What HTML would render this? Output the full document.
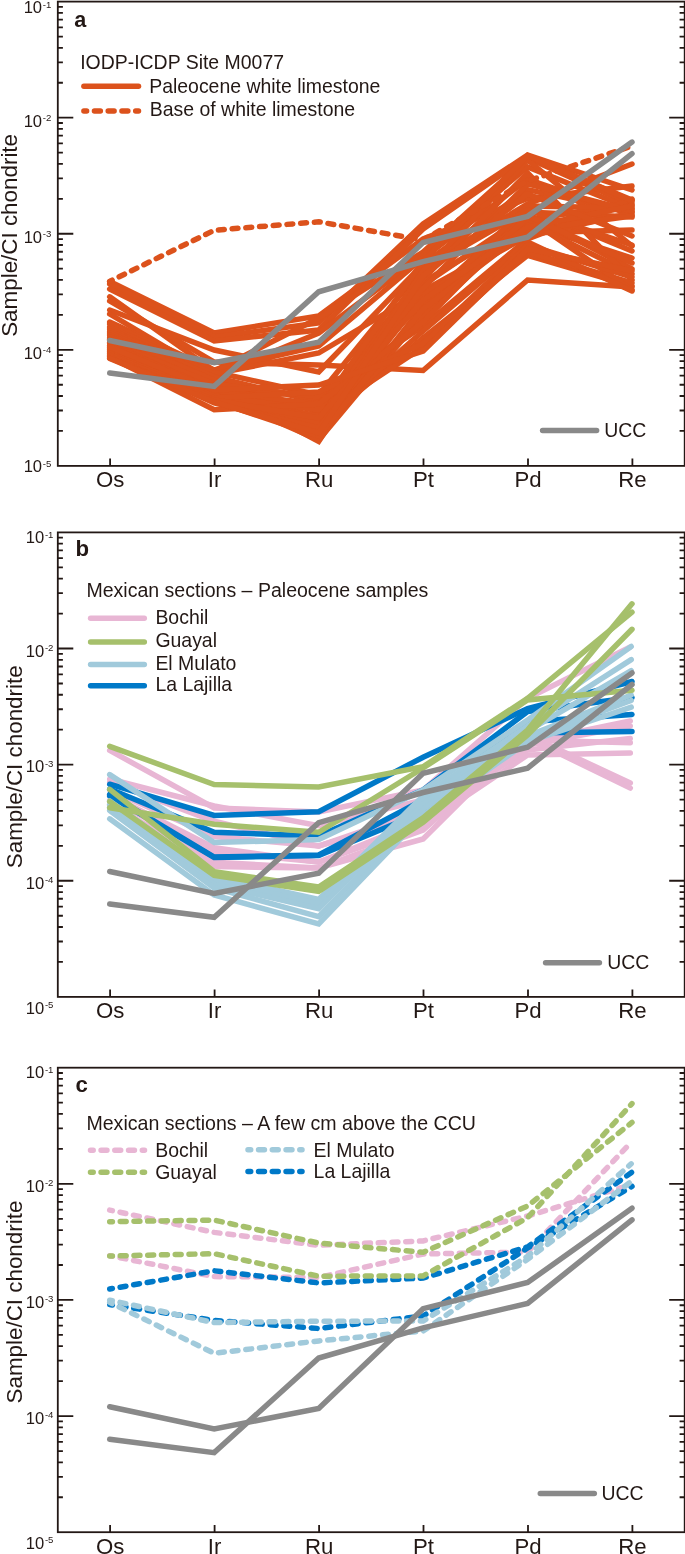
<!DOCTYPE html>
<html><head><meta charset="utf-8"><title>PGE patterns</title>
<style>html,body{margin:0;padding:0;background:#fff}svg{display:block;will-change:transform}</style></head>
<body>
<svg width="685" height="1554" viewBox="0 0 685 1554" font-family="'Liberation Sans', sans-serif" fill="#231815">
<rect width="685" height="1554" fill="#fff"/>
<g fill="none" stroke-linecap="round" stroke-linejoin="miter" stroke-miterlimit="10">
<polyline points="109.7,281.5 214.2,333 318.7,316 423.1,239 527.6,198.4 632,186" stroke="#DC521C" stroke-width="5.5" />
<polyline points="109.7,284 214.2,337 318.7,323 423.1,224 527.6,155 632,190" stroke="#DC521C" stroke-width="5.5" />
<polyline points="109.7,289 214.2,341 318.7,330 423.1,229 527.6,156.5 632,200" stroke="#DC521C" stroke-width="5.5" />
<polyline points="109.7,296.8 214.2,371 318.7,318 423.1,252 527.6,158 632,205" stroke="#DC521C" stroke-width="5.5" />
<polyline points="109.7,300.9 214.2,362 318.7,365 423.1,370.5 527.6,280 632,287" stroke="#DC521C" stroke-width="5.5" />
<polyline points="109.7,310 214.2,350 318.7,372 423.1,264 527.6,189.6 632,212" stroke="#DC521C" stroke-width="5.5" />
<polyline points="109.7,314 214.2,376 318.7,333 423.1,255 527.6,167 632,209" stroke="#DC521C" stroke-width="5.5" />
<polyline points="109.7,322 214.2,370 318.7,346 423.1,258 527.6,179.4 632,215" stroke="#DC521C" stroke-width="5.5" />
<polyline points="109.7,324 214.2,372 318.7,395 423.1,267 527.6,204 632,164" stroke="#DC521C" stroke-width="5.5" />
<polyline points="109.7,327 214.2,374 318.7,353 423.1,291 527.6,233 632,230" stroke="#DC521C" stroke-width="5.5" />
<polyline points="109.7,329 214.2,378 318.7,412 423.1,273 527.6,160 632,246" stroke="#DC521C" stroke-width="5.5" />
<polyline points="109.7,331 214.2,377 318.7,402 423.1,303 527.6,208 632,251" stroke="#DC521C" stroke-width="5.5" />
<polyline points="109.7,333 214.2,381 318.7,420 423.1,282 527.6,220 632,203" stroke="#DC521C" stroke-width="5.5" />
<polyline points="109.7,335 214.2,383 318.7,428 423.1,297 527.6,224 632,258" stroke="#DC521C" stroke-width="5.5" />
<polyline points="109.7,337 214.2,380 318.7,435 423.1,312 527.6,212 632,217" stroke="#DC521C" stroke-width="5.5" />
<polyline points="109.7,339 214.2,386 318.7,441.5 423.1,285 527.6,214 632,269" stroke="#DC521C" stroke-width="5.5" />
<polyline points="109.7,340 214.2,388 318.7,408 423.1,318 527.6,222 632,274" stroke="#DC521C" stroke-width="5.5" />
<polyline points="109.7,342 214.2,384 318.7,397 423.1,326 527.6,239 632,199" stroke="#DC521C" stroke-width="5.5" />
<polyline points="109.7,343 214.2,391 318.7,432 423.1,279 527.6,173 632,280" stroke="#DC521C" stroke-width="5.5" />
<polyline points="109.7,345 214.2,389 318.7,425 423.1,338 527.6,255.3 632,286" stroke="#DC521C" stroke-width="5.5" />
<polyline points="109.7,346 214.2,393 318.7,438 423.1,306 527.6,206 632,208" stroke="#DC521C" stroke-width="5.5" />
<polyline points="109.7,348 214.2,395 318.7,416 423.1,347 527.6,252 632,283" stroke="#DC521C" stroke-width="5.5" />
<polyline points="109.7,349 214.2,392 318.7,404 423.1,294 527.6,236 632,213" stroke="#DC521C" stroke-width="5.5" />
<polyline points="109.7,350 214.2,397 318.7,430 423.1,270 527.6,210 632,245" stroke="#DC521C" stroke-width="5.5" />
<polyline points="109.7,351 214.2,394 318.7,440 423.1,315 527.6,218 632,290" stroke="#DC521C" stroke-width="5.5" />
<polyline points="109.7,352 214.2,399 318.7,423 423.1,331 527.6,242 632,291" stroke="#DC521C" stroke-width="5.5" />
<polyline points="109.7,353 214.2,396 318.7,410 423.1,261 527.6,155.5 632,201" stroke="#DC521C" stroke-width="5.5" />
<polyline points="109.7,354 214.2,401 318.7,436 423.1,309 527.6,230 632,216" stroke="#DC521C" stroke-width="5.5" />
<polyline points="109.7,355 214.2,398 318.7,392 423.1,343.5 527.6,245 632,277" stroke="#DC521C" stroke-width="5.5" />
<polyline points="109.7,356 214.2,403 318.7,428 423.1,288 527.6,183.8 632,211" stroke="#DC521C" stroke-width="5.5" />
<polyline points="109.7,357 214.2,409.8 318.7,404 423.1,322 527.6,216 632,263" stroke="#DC521C" stroke-width="5.5" />
<polyline points="109.7,358 214.2,400 318.7,418 423.1,300 527.6,227 632,206" stroke="#DC521C" stroke-width="5.5" />
<polyline points="109.7,358.5 214.2,402 318.7,433 423.1,276 527.6,194 632,236" stroke="#DC521C" stroke-width="5.5" />
<polyline points="109.7,347 214.2,390 318.7,385 423.1,351 527.6,248.8 632,271" stroke="#DC521C" stroke-width="5.5" />
<polyline points="109.7,281.4 214.2,230.3 318.7,221.8 423.1,240 527.6,181 632,146" stroke="#DC521C" stroke-width="5.5" stroke-dasharray="5.9 7.85" stroke-dashoffset="3.2"/>
<polyline points="109.7,340.54 214.2,362.59 318.7,342.28 423.1,242.46 527.6,216.34 632,142.05" stroke="#898989" stroke-width="5.5" />
<polyline points="109.7,373.04 214.2,386.39 318.7,291.79 423.1,261.61 527.6,237.23 632,153.66" stroke="#898989" stroke-width="5.5" />
<path d="M83.9 86.3H138.5" stroke="#DC521C" stroke-width="5.5"/>
<path d="M83.9 111H138.5" stroke="#DC521C" stroke-width="5.5" stroke-dasharray="5.9 7.85" stroke-dashoffset="3.2"/>
<path d="M542.6 430.4H596.6" stroke="#898989" stroke-width="5.5"/>
</g>
<g stroke="#231815" stroke-width="1.8" fill="none" stroke-linecap="butt">
<rect x="57.8" y="1.6" width="626.9" height="464.3"/>
<path d="M57.8 82.73h5.1M684.7 82.73h-5.1M57.8 62.29h5.1M684.7 62.29h-5.1M57.8 47.79h5.1M684.7 47.79h-5.1M57.8 36.54h5.1M684.7 36.54h-5.1M57.8 27.35h5.1M684.7 27.35h-5.1M57.8 19.58h5.1M684.7 19.58h-5.1M57.8 12.85h5.1M684.7 12.85h-5.1M57.8 6.91h5.1M684.7 6.91h-5.1M57.8 117.67h15.5M684.7 117.67h-15.5M57.8 198.81h5.1M684.7 198.81h-5.1M57.8 178.37h5.1M684.7 178.37h-5.1M57.8 163.87h5.1M684.7 163.87h-5.1M57.8 152.62h5.1M684.7 152.62h-5.1M57.8 143.43h5.1M684.7 143.43h-5.1M57.8 135.66h5.1M684.7 135.66h-5.1M57.8 128.92h5.1M684.7 128.92h-5.1M57.8 122.99h5.1M684.7 122.99h-5.1M57.8 233.75h15.5M684.7 233.75h-15.5M57.8 314.88h5.1M684.7 314.88h-5.1M57.8 294.44h5.1M684.7 294.44h-5.1M57.8 279.94h5.1M684.7 279.94h-5.1M57.8 268.69h5.1M684.7 268.69h-5.1M57.8 259.5h5.1M684.7 259.5h-5.1M57.8 251.73h5.1M684.7 251.73h-5.1M57.8 245h5.1M684.7 245h-5.1M57.8 239.06h5.1M684.7 239.06h-5.1M57.8 349.82h15.5M684.7 349.82h-15.5M57.8 430.96h5.1M684.7 430.96h-5.1M57.8 410.52h5.1M684.7 410.52h-5.1M57.8 396.02h5.1M684.7 396.02h-5.1M57.8 384.77h5.1M684.7 384.77h-5.1M57.8 375.58h5.1M684.7 375.58h-5.1M57.8 367.81h5.1M684.7 367.81h-5.1M57.8 361.07h5.1M684.7 361.07h-5.1M57.8 355.14h5.1M684.7 355.14h-5.1M110.1 465.9v-7.3M214.6 465.9v-7.3M319.1 465.9v-7.3M423.5 465.9v-7.3M528 465.9v-7.3M632.4 465.9v-7.3"/>
</g>
<text x="23.65" y="13.1" font-size="16.6">10</text>
<text x="42.8" y="7.5" font-size="9.6">-1</text>
<text x="23.65" y="127.07" font-size="16.6">10</text>
<text x="42.8" y="121.47" font-size="9.6">-2</text>
<text x="23.65" y="242.65" font-size="16.6">10</text>
<text x="42.8" y="237.05" font-size="9.6">-3</text>
<text x="23.65" y="359.02" font-size="16.6">10</text>
<text x="42.8" y="353.42" font-size="9.6">-4</text>
<text x="23.65" y="472.2" font-size="16.6">10</text>
<text x="42.8" y="466.6" font-size="9.6">-5</text>
<text transform="translate(16.9 235.4) rotate(-90)" font-size="22.4" text-anchor="middle">Sample/CI chondrite</text>
<text x="110.1" y="487.3" font-size="22.2" text-anchor="middle" font-weight="normal" >Os</text>
<text x="214.6" y="487.3" font-size="22.2" text-anchor="middle" font-weight="normal" >Ir</text>
<text x="319.1" y="487.3" font-size="22.2" text-anchor="middle" font-weight="normal" >Ru</text>
<text x="423.5" y="487.3" font-size="22.2" text-anchor="middle" font-weight="normal" >Pt</text>
<text x="528" y="487.3" font-size="22.2" text-anchor="middle" font-weight="normal" >Pd</text>
<text x="632.4" y="487.3" font-size="22.2" text-anchor="middle" font-weight="normal" >Re</text>
<text x="74.3" y="27.4" font-size="21.6" text-anchor="start" font-weight="bold" >a</text>
<text x="80.2" y="69.1" font-size="19.45" text-anchor="start" font-weight="normal" >IODP-ICDP Site M0077</text>
<text x="149.2" y="93.2" font-size="19.45" text-anchor="start" font-weight="normal" >Paleocene white limestone</text>
<text x="149.8" y="115.6" font-size="19.45" text-anchor="start" font-weight="normal" >Base of white limestone</text>
<text x="604.3" y="436.8" font-size="19.45" text-anchor="start" font-weight="normal" >UCC</text>
<g fill="none" stroke-linecap="round" stroke-linejoin="miter" stroke-miterlimit="10">
<polyline points="109.7,750.4 214.2,808 318.7,812 423.1,790 527.6,698.4 630.3,647" stroke="#E8B6D4" stroke-width="5.5" />
<polyline points="109.7,779 214.2,806 318.7,825.7 423.1,800 527.6,742 630.3,721" stroke="#E8B6D4" stroke-width="5.5" />
<polyline points="109.7,782 214.2,821.3 318.7,846.1 423.1,810 527.6,745 630.3,726" stroke="#E8B6D4" stroke-width="5.5" />
<polyline points="109.7,790 214.2,836.6 318.7,846 423.1,815 527.6,750 630.3,738.5" stroke="#E8B6D4" stroke-width="5.5" />
<polyline points="109.7,795 214.2,847.6 318.7,862.2 423.1,820 527.6,740 630.3,742.8" stroke="#E8B6D4" stroke-width="5.5" />
<polyline points="109.7,800 214.2,852 318.7,862 423.1,825 527.6,755 630.3,753" stroke="#E8B6D4" stroke-width="5.5" />
<polyline points="109.7,805 214.2,862.2 318.7,868 423.1,839 527.6,735 630.3,783" stroke="#E8B6D4" stroke-width="5.5" />
<polyline points="109.7,808 214.2,866.6 318.7,868 423.1,830 527.6,738 630.3,788.1" stroke="#E8B6D4" stroke-width="5.5" />
<polyline points="109.7,784.2 214.2,815.5 318.7,811.8 423.1,757.2 527.6,708.6 632,681.5" stroke="#0079C8" stroke-width="5.5" />
<polyline points="109.7,789 214.2,832.3 318.7,835.9 423.1,790 527.6,711.5 632,697.6" stroke="#0079C8" stroke-width="5.5" />
<polyline points="109.7,794.4 214.2,857.1 318.7,854.9 423.1,800 527.6,721.8 632,714.4" stroke="#0079C8" stroke-width="5.5" />
<polyline points="109.7,796 214.2,857.5 318.7,855.5 423.1,812 527.6,733 632,731.5" stroke="#0079C8" stroke-width="5.5" />
<polyline points="109.7,774.6 214.2,842.5 318.7,839.6 423.1,790 527.6,720 631.2,646.5" stroke="#A1CADB" stroke-width="5.5" />
<polyline points="109.7,801 214.2,876 318.7,899.5 423.1,796 527.6,726 631.2,659.6" stroke="#A1CADB" stroke-width="5.5" />
<polyline points="109.7,804.5 214.2,880.5 318.7,904 423.1,800 527.6,731 631.2,670.6" stroke="#A1CADB" stroke-width="5.5" />
<polyline points="109.7,807.5 214.2,884.5 318.7,908.7 423.1,804 527.6,736 631.2,695" stroke="#A1CADB" stroke-width="5.5" />
<polyline points="109.7,810.5 214.2,888 318.7,916.6 423.1,809 527.6,739 631.2,700.5" stroke="#A1CADB" stroke-width="5.5" />
<polyline points="109.7,818.8 214.2,895 318.7,924 423.1,815 527.6,742 631.2,707.1" stroke="#A1CADB" stroke-width="5.5" />
<polyline points="109.7,746.3 214.2,784.5 318.7,787 423.1,766.7 527.6,698.4 632,612.2" stroke="#A6C06C" stroke-width="5.5" />
<polyline points="109.7,807.7 214.2,824.2 318.7,832.3 423.1,768 527.6,700 632,690.3" stroke="#A6C06C" stroke-width="5.5" />
<polyline points="109.7,789.3 214.2,871.7 318.7,887 423.1,817.8 527.6,730 632,603.8" stroke="#A6C06C" stroke-width="5.5" />
<polyline points="109.7,801.5 214.2,875.3 318.7,891.4 423.1,822.2 527.6,735 632,629.3" stroke="#A6C06C" stroke-width="5.5" />
<polyline points="109.7,871.48 214.2,893.55 318.7,873.23 423.1,773.36 527.6,747.23 632,672.91" stroke="#898989" stroke-width="5.5" />
<polyline points="109.7,904 214.2,917.35 318.7,822.71 423.1,792.52 527.6,768.13 632,684.52" stroke="#898989" stroke-width="5.5" />
<path d="M90.6 618.2H144.3" stroke="#E8B6D4" stroke-width="5.5"/>
<path d="M90.6 641.9H144.3" stroke="#A6C06C" stroke-width="5.5"/>
<path d="M90.6 664.5H144.3" stroke="#A1CADB" stroke-width="5.5"/>
<path d="M90.6 685.8H144.3" stroke="#0079C8" stroke-width="5.5"/>
<path d="M545.6 962.8H599.4" stroke="#898989" stroke-width="5.5"/>
</g>
<g stroke="#231815" stroke-width="1.8" fill="none" stroke-linecap="butt">
<rect x="57.8" y="532.4" width="626.9" height="464.5"/>
<path d="M57.8 613.57h5.1M684.7 613.57h-5.1M57.8 593.12h5.1M684.7 593.12h-5.1M57.8 578.61h5.1M684.7 578.61h-5.1M57.8 567.36h5.1M684.7 567.36h-5.1M57.8 558.16h5.1M684.7 558.16h-5.1M57.8 550.39h5.1M684.7 550.39h-5.1M57.8 543.65h5.1M684.7 543.65h-5.1M57.8 537.71h5.1M684.7 537.71h-5.1M57.8 648.52h15.5M684.7 648.52h-15.5M57.8 729.69h5.1M684.7 729.69h-5.1M57.8 709.24h5.1M684.7 709.24h-5.1M57.8 694.74h5.1M684.7 694.74h-5.1M57.8 683.48h5.1M684.7 683.48h-5.1M57.8 674.29h5.1M684.7 674.29h-5.1M57.8 666.51h5.1M684.7 666.51h-5.1M57.8 659.78h5.1M684.7 659.78h-5.1M57.8 653.84h5.1M684.7 653.84h-5.1M57.8 764.65h15.5M684.7 764.65h-15.5M57.8 845.82h5.1M684.7 845.82h-5.1M57.8 825.37h5.1M684.7 825.37h-5.1M57.8 810.86h5.1M684.7 810.86h-5.1M57.8 799.61h5.1M684.7 799.61h-5.1M57.8 790.41h5.1M684.7 790.41h-5.1M57.8 782.64h5.1M684.7 782.64h-5.1M57.8 775.9h5.1M684.7 775.9h-5.1M57.8 769.96h5.1M684.7 769.96h-5.1M57.8 880.77h15.5M684.7 880.77h-15.5M57.8 961.94h5.1M684.7 961.94h-5.1M57.8 941.49h5.1M684.7 941.49h-5.1M57.8 926.99h5.1M684.7 926.99h-5.1M57.8 915.73h5.1M684.7 915.73h-5.1M57.8 906.54h5.1M684.7 906.54h-5.1M57.8 898.76h5.1M684.7 898.76h-5.1M57.8 892.03h5.1M684.7 892.03h-5.1M57.8 886.09h5.1M684.7 886.09h-5.1M110.1 996.9v-7.3M214.6 996.9v-7.3M319.1 996.9v-7.3M423.5 996.9v-7.3M528 996.9v-7.3M632.4 996.9v-7.3"/>
</g>
<text x="25.75" y="543.1" font-size="16.6">10</text>
<text x="44.9" y="537.5" font-size="9.6">-1</text>
<text x="25.75" y="656.73" font-size="16.6">10</text>
<text x="44.9" y="651.12" font-size="9.6">-2</text>
<text x="25.75" y="772.45" font-size="16.6">10</text>
<text x="44.9" y="766.85" font-size="9.6">-3</text>
<text x="25.75" y="888.77" font-size="16.6">10</text>
<text x="44.9" y="883.17" font-size="9.6">-4</text>
<text x="25.75" y="1013.5" font-size="16.6">10</text>
<text x="44.9" y="1007.9" font-size="9.6">-5</text>
<text transform="translate(21.6 766.75) rotate(-90)" font-size="22.4" text-anchor="middle">Sample/CI chondrite</text>
<text x="110.1" y="1018.3" font-size="22.2" text-anchor="middle" font-weight="normal" >Os</text>
<text x="214.6" y="1018.3" font-size="22.2" text-anchor="middle" font-weight="normal" >Ir</text>
<text x="319.1" y="1018.3" font-size="22.2" text-anchor="middle" font-weight="normal" >Ru</text>
<text x="423.5" y="1018.3" font-size="22.2" text-anchor="middle" font-weight="normal" >Pt</text>
<text x="528" y="1018.3" font-size="22.2" text-anchor="middle" font-weight="normal" >Pd</text>
<text x="632.4" y="1018.3" font-size="22.2" text-anchor="middle" font-weight="normal" >Re</text>
<text x="75.4" y="555.5" font-size="22.2" text-anchor="start" font-weight="bold" >b</text>
<text x="86.4" y="596.8" font-size="19.55" text-anchor="start" font-weight="normal" >Mexican sections – Paleocene samples</text>
<text x="155.4" y="624.1" font-size="19.45" text-anchor="start" font-weight="normal" >Bochil</text>
<text x="155.4" y="647.3" font-size="19.45" text-anchor="start" font-weight="normal" >Guayal</text>
<text x="155.4" y="670.1" font-size="19.45" text-anchor="start" font-weight="normal" >El Mulato</text>
<text x="155.4" y="691.1" font-size="19.45" text-anchor="start" font-weight="normal" >La Lajilla</text>
<text x="607.2" y="969" font-size="19.45" text-anchor="start" font-weight="normal" >UCC</text>
<g fill="none" stroke-linecap="round" stroke-linejoin="miter" stroke-miterlimit="10">
<polyline points="109.7,1210.1 214.2,1232.4 318.7,1245.3 423.1,1240.9 527.6,1216 630.3,1185" stroke="#E8B6D4" stroke-width="5.5" stroke-dasharray="5.9 7.85" stroke-dashoffset="3.2"/>
<polyline points="109.7,1255.7 214.2,1276.6 318.7,1277.4 423.1,1254 527.6,1252 630.3,1143.2" stroke="#E8B6D4" stroke-width="5.5" stroke-dasharray="5.9 7.85" stroke-dashoffset="3.2"/>
<polyline points="109.7,1289 214.2,1270.8 318.7,1282.9 423.1,1278.1 527.6,1246.9 632,1172.1" stroke="#0079C8" stroke-width="5.5" stroke-dasharray="5.9 7.85" stroke-dashoffset="3.2"/>
<polyline points="109.7,1304.6 214.2,1320.4 318.7,1328.5 423.1,1316 527.6,1248 632,1186.3" stroke="#0079C8" stroke-width="5.5" stroke-dasharray="5.9 7.85" stroke-dashoffset="3.2"/>
<polyline points="109.7,1300.2 214.2,1322.6 318.7,1321.2 423.1,1321 527.6,1256.4 631.2,1163.8" stroke="#A1CADB" stroke-width="5.5" stroke-dasharray="5.9 7.85" stroke-dashoffset="3.2"/>
<polyline points="109.7,1302.4 214.2,1353.3 318.7,1340.9 423.1,1331 527.6,1259.3 631.2,1181.5" stroke="#A1CADB" stroke-width="5.5" stroke-dasharray="5.9 7.85" stroke-dashoffset="3.2"/>
<polyline points="109.7,1221.7 214.2,1220.1 318.7,1243.1 423.1,1252.3 527.6,1206 632,1122.4" stroke="#A6C06C" stroke-width="5.5" stroke-dasharray="5.9 7.85" stroke-dashoffset="3.2"/>
<polyline points="109.7,1256 214.2,1253.7 318.7,1276.2 423.1,1275.9 527.6,1217.7 632,1103.6" stroke="#A6C06C" stroke-width="5.5" stroke-dasharray="5.9 7.85" stroke-dashoffset="3.2"/>
<polyline points="109.7,1406.79 214.2,1428.85 318.7,1408.53 423.1,1308.66 527.6,1282.53 632,1208.21" stroke="#898989" stroke-width="5.5" />
<polyline points="109.7,1439.3 214.2,1452.65 318.7,1358.01 423.1,1327.82 527.6,1303.43 632,1219.82" stroke="#898989" stroke-width="5.5" />
<path d="M90.5 1150.2h54" stroke="#E8B6D4" stroke-width="5.5" stroke-dasharray="5.9 7.85" stroke-dashoffset="3.2"/>
<path d="M90.5 1172.2h54" stroke="#A6C06C" stroke-width="5.5" stroke-dasharray="5.9 7.85" stroke-dashoffset="3.2"/>
<path d="M248 1149.8h54" stroke="#A1CADB" stroke-width="5.5" stroke-dasharray="5.9 7.85" stroke-dashoffset="3.2"/>
<path d="M248 1171.5h54" stroke="#0079C8" stroke-width="5.5" stroke-dasharray="5.9 7.85" stroke-dashoffset="3.2"/>
<path d="M540.3 1493.6H594.3" stroke="#898989" stroke-width="5.5"/>
</g>
<g stroke="#231815" stroke-width="1.8" fill="none" stroke-linecap="butt">
<rect x="57.8" y="1067.7" width="626.9" height="464.5"/>
<path d="M57.8 1148.87h5.1M684.7 1148.87h-5.1M57.8 1128.42h5.1M684.7 1128.42h-5.1M57.8 1113.91h5.1M684.7 1113.91h-5.1M57.8 1102.66h5.1M684.7 1102.66h-5.1M57.8 1093.46h5.1M684.7 1093.46h-5.1M57.8 1085.69h5.1M684.7 1085.69h-5.1M57.8 1078.95h5.1M684.7 1078.95h-5.1M57.8 1073.01h5.1M684.7 1073.01h-5.1M57.8 1183.83h15.5M684.7 1183.83h-15.5M57.8 1264.99h5.1M684.7 1264.99h-5.1M57.8 1244.54h5.1M684.7 1244.54h-5.1M57.8 1230.04h5.1M684.7 1230.04h-5.1M57.8 1218.78h5.1M684.7 1218.78h-5.1M57.8 1209.59h5.1M684.7 1209.59h-5.1M57.8 1201.81h5.1M684.7 1201.81h-5.1M57.8 1195.08h5.1M684.7 1195.08h-5.1M57.8 1189.14h5.1M684.7 1189.14h-5.1M57.8 1299.95h15.5M684.7 1299.95h-15.5M57.8 1381.12h5.1M684.7 1381.12h-5.1M57.8 1360.67h5.1M684.7 1360.67h-5.1M57.8 1346.16h5.1M684.7 1346.16h-5.1M57.8 1334.91h5.1M684.7 1334.91h-5.1M57.8 1325.71h5.1M684.7 1325.71h-5.1M57.8 1317.94h5.1M684.7 1317.94h-5.1M57.8 1311.2h5.1M684.7 1311.2h-5.1M57.8 1305.26h5.1M684.7 1305.26h-5.1M57.8 1416.08h15.5M684.7 1416.08h-15.5M57.8 1497.24h5.1M684.7 1497.24h-5.1M57.8 1476.79h5.1M684.7 1476.79h-5.1M57.8 1462.29h5.1M684.7 1462.29h-5.1M57.8 1451.03h5.1M684.7 1451.03h-5.1M57.8 1441.84h5.1M684.7 1441.84h-5.1M57.8 1434.06h5.1M684.7 1434.06h-5.1M57.8 1427.33h5.1M684.7 1427.33h-5.1M57.8 1421.39h5.1M684.7 1421.39h-5.1M110.1 1532.2v-7.3M214.6 1532.2v-7.3M319.1 1532.2v-7.3M423.5 1532.2v-7.3M528 1532.2v-7.3M632.4 1532.2v-7.3"/>
</g>
<text x="25.75" y="1078.4" font-size="16.6">10</text>
<text x="44.9" y="1072.8" font-size="9.6">-1</text>
<text x="25.75" y="1192.03" font-size="16.6">10</text>
<text x="44.9" y="1186.43" font-size="9.6">-2</text>
<text x="25.75" y="1307.75" font-size="16.6">10</text>
<text x="44.9" y="1302.15" font-size="9.6">-3</text>
<text x="25.75" y="1424.08" font-size="16.6">10</text>
<text x="44.9" y="1418.48" font-size="9.6">-4</text>
<text x="25.75" y="1548.8" font-size="16.6">10</text>
<text x="44.9" y="1543.2" font-size="9.6">-5</text>
<text transform="translate(21.6 1302.05) rotate(-90)" font-size="22.4" text-anchor="middle">Sample/CI chondrite</text>
<text x="110.1" y="1553.6" font-size="22.2" text-anchor="middle" font-weight="normal" >Os</text>
<text x="214.6" y="1553.6" font-size="22.2" text-anchor="middle" font-weight="normal" >Ir</text>
<text x="319.1" y="1553.6" font-size="22.2" text-anchor="middle" font-weight="normal" >Ru</text>
<text x="423.5" y="1553.6" font-size="22.2" text-anchor="middle" font-weight="normal" >Pt</text>
<text x="528" y="1553.6" font-size="22.2" text-anchor="middle" font-weight="normal" >Pd</text>
<text x="632.4" y="1553.6" font-size="22.2" text-anchor="middle" font-weight="normal" >Re</text>
<text x="86.4" y="1129.9" font-size="19.58" text-anchor="start" font-weight="normal" >Mexican sections – A few cm above the CCU</text>
<text x="155.2" y="1156.9" font-size="19.45" text-anchor="start" font-weight="normal" >Bochil</text>
<text x="155.2" y="1179" font-size="19.45" text-anchor="start" font-weight="normal" >Guayal</text>
<text x="313.6" y="1156.7" font-size="19.45" text-anchor="start" font-weight="normal" >El Mulato</text>
<text x="313.6" y="1177.6" font-size="19.45" text-anchor="start" font-weight="normal" >La Lajilla</text>
<text x="601.5" y="1499.8" font-size="19.45" text-anchor="start" font-weight="normal" >UCC</text>
<text x="75.6" y="1092" font-size="22.2" text-anchor="start" font-weight="bold" >c</text>
</svg>
</body></html>
